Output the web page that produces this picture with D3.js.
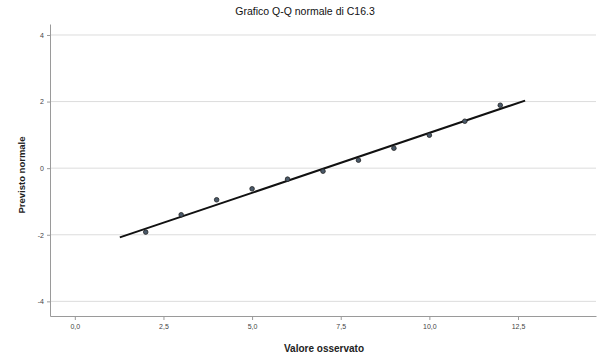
<!DOCTYPE html>
<html><head><meta charset="utf-8">
<script src="https://cdn.jsdelivr.net/npm/d3@7"></script>
<style>body{margin:0;background:#fff}svg{display:block}</style>
</head><body><svg id="c" width="606" height="361"></svg>
<script>
const title = "Grafico Q-Q normale di C16.3";
const xLabel = "Valore osservato";
const yLabel = "Previsto normale";
const observed = [2, 3, 4, 5, 6, 7, 8, 9, 10, 11, 12];
const expected = [-1.92, -1.40, -0.95, -0.62, -0.33, -0.09, 0.24, 0.60, 0.99, 1.41, 1.89];
const lineX = [1.27, 12.7];
const lineY = [-2.08, 2.03];
const xTicks = [0, 2.5, 5, 7.5, 10, 12.5];
const xTickLabels = ["0,0", "2,5", "5,0", "7,5", "10,0", "12,5"];
const yTicks = [-4, -2, 0, 2, 4];
const yTickLabels = ["-4", "-2", "0", "2", "4"];

const svg = d3.select("#c");
const L = 50, R = 596, T = 24, B = 316;
const x = d3.scaleLinear().domain([-0.7, 14.7]).range([L, R]);
const y = d3.scaleLinear().domain([-4.44, 4.33]).range([B, T]);

// gridlines
svg.append("g").selectAll("line").data(yTicks).join("line")
  .attr("x1", L).attr("x2", R)
  .attr("y1", d => y(d)).attr("y2", d => y(d))
  .attr("stroke", "#dcdcdc").attr("stroke-width", 1);

// axes
const xAxis = svg.append("g").attr("transform", `translate(0,${B})`)
  .call(d3.axisBottom(x).tickValues(xTicks).tickFormat((d,i) => xTickLabels[i]).tickSize(4).tickSizeOuter(0));
const yAxis = svg.append("g").attr("transform", `translate(${L},0)`)
  .call(d3.axisLeft(y).tickValues(yTicks).tickFormat((d,i) => yTickLabels[i]).tickSize(3).tickSizeOuter(0));
[xAxis, yAxis].forEach(g => {
  g.select(".domain").attr("stroke", "#9a9a9a");
  g.selectAll(".tick line").attr("stroke", "#9a9a9a");
  g.selectAll("text").attr("font-family", "Liberation Sans, Arial, sans-serif")
    .attr("font-size", 7).attr("fill", "#444");
});
xAxis.selectAll("text").attr("dy", "0.9em");

// reference line
svg.append("line")
  .attr("x1", x(lineX[0])).attr("y1", y(lineY[0]))
  .attr("x2", x(lineX[1])).attr("y2", y(lineY[1]))
  .attr("stroke", "#111").attr("stroke-width", 2);

// points
svg.append("g").selectAll("circle").data(observed).join("circle")
  .attr("cx", d => x(d)).attr("cy", (d,i) => y(expected[i]))
  .attr("r", 2.3).attr("fill", "#4a5a6a").attr("stroke", "#222").attr("stroke-width", 0.8);

// titles
svg.append("text").attr("x", 305).attr("y", 15).attr("text-anchor", "middle")
  .attr("font-family", "Liberation Sans, Arial, sans-serif").attr("font-size", 10.5)
  .attr("fill", "#111").text(title);
svg.append("text").attr("x", 324).attr("y", 352).attr("text-anchor", "middle")
  .attr("font-family", "Liberation Sans, Arial, sans-serif").attr("font-size", 10).attr("font-weight", "bold")
  .attr("fill", "#222").text(xLabel);
svg.append("text").attr("transform", "translate(25,175) rotate(-90)").attr("text-anchor", "middle")
  .attr("font-family", "Liberation Sans, Arial, sans-serif").attr("font-size", 9.5).attr("font-weight", "bold")
  .attr("fill", "#222").text(yLabel);
</script></body></html>
